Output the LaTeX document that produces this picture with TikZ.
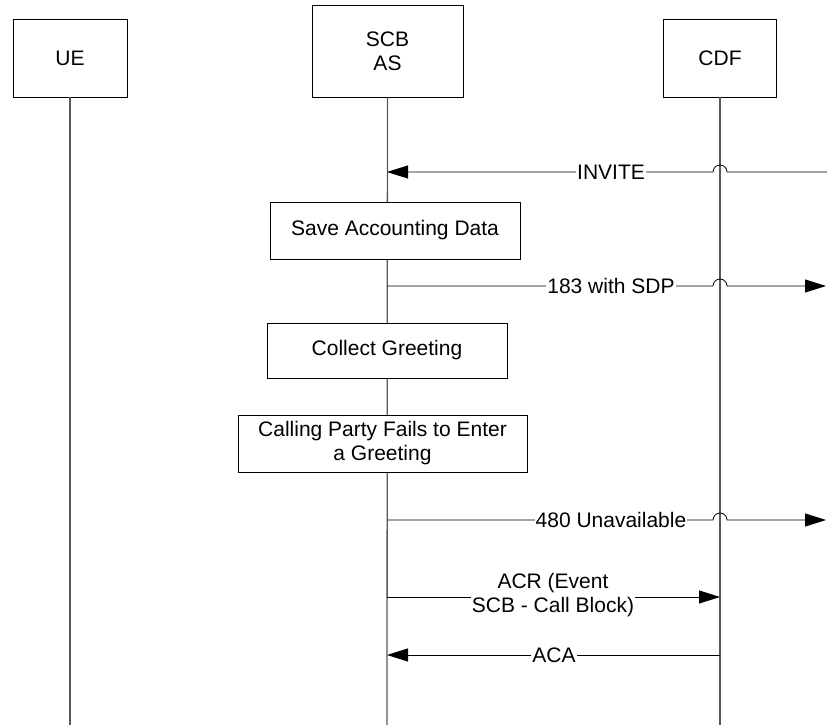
\documentclass[tikz,border=0pt]{standalone}
\usepackage{fontspec}
\setmainfont{Liberation Sans}
\usetikzlibrary{arrows.meta, positioning}
\tikzstyle{headbox} = [rectangle, draw = black, line width = 0.8pt,
  text centered, align = center, inner sep = 0]
\tikzstyle{actbox} = [
  rectangle, draw = black, fill = white, line width = 0.8pt,
  align = center, inner sep = 0
]
\tikzstyle{life} = [draw = black!65, line width = 1.3pt]
\tikzstyle{msg} = [draw = black, line width = 0.8pt]
\tikzstyle{msgtip} = [-{Triangle[length = 21pt, width = 13pt]}]
\tikzstyle{msglabel} = [fill = white, inner sep = 1pt, align = center]

\begin{document}
\begin{tikzpicture}[x = 1pt, y = 1pt, font = \fontsize{21}{24}\selectfont]
      \useasboundingbox (0, 0) rectangle (827, 725);
      % UE
      \node [headbox, minimum width = 114, minimum height = 78] (ue) at (70, 667) {UE};
      \coordinate (ue-end) at (70, 0);
      % SCB AS
      \node [headbox, minimum width = 151, minimum height = 92] (scb) at (387.5, 674) {SCB\\AS};
      \coordinate (scb-end) at (387, 0);
      % CDF
      \node [headbox, minimum width = 113, minimum height = 78] (cdf) at (720, 667) {CDF};
      \coordinate (cdf-end) at (720, 0);

      \draw [life] (ue) -- (ue-end);
      \draw [life] (scb) -- (scb-end);
      \draw [life] (cdf) -- (cdf-end);

      % actions
      \node [actbox, minimum width = 250, minimum height = 57] (save) at (395, 494.5) {Save Accounting Data};
      \node [actbox, minimum width = 240, minimum height = 55] (collect) at (387, 374.5) {Collect Greeting};
      \node [actbox, minimum width = 289, minimum height = 57] (fail) at (382.5, 281.5) {Calling Party Fails to Enter\\a Greeting};

      % INVITE
      \coordinate (invite-a) at (827, 553);
      \coordinate (invite-b) at (scb-end |- invite-a);
      \coordinate (invite-j) at (cdf-end |- invite-a);
      \draw [msg, msgtip] (invite-a) -- ([xshift = 7pt] invite-j)
      arc [start angle = 0, end angle = 180, radius = 7pt] -- (invite-b);
      \node [msglabel] (invite) at (611, 553) {INVITE};
      % 183
      \coordinate (sdp-a) at (scb-end |- 0, 439);
      \coordinate (sdp-b) at (826, 439);
      \coordinate (sdp-j) at (cdf-end |- sdp-a);
      \draw [msg, msgtip] (sdp-a) -- ([xshift = -7pt] sdp-j)
      arc [start angle = 180, end angle = 0, radius = 7pt] -- (sdp-b);
      \node [msglabel] (sdp) at (611, 439) {183 with SDP};
      % 480
      \coordinate (unav-a) at (scb-end |- 0, 205);
      \coordinate (unav-b) at (826, 205);
      \coordinate (unav-j) at (cdf-end |- unav-a);
      \draw [msg, msgtip] (unav-a) -- ([xshift = -7pt] unav-j)
      arc [start angle = 180, end angle = 0, radius = 7pt] -- (unav-b);
      \node [msglabel] (unav) at (611, 205) {480 Unavailable};
      % ACR
      \coordinate (acr-a) at (scb-end |- 0, 128);
      \coordinate (acr-b) at (cdf-end |- acr-a);
      \draw [msg, msgtip] (acr-a) -- (acr-b);
      \node [msglabel] (acr) at (553, 130) {ACR (Event\\SCB - Call Block)};
      % ACA
      \coordinate (aca-a) at (cdf-end |- 0, 70);
      \coordinate (aca-b) at (scb-end |- aca-a);
      \draw [msg, msgtip] (aca-a) -- (aca-b);
      \node [msglabel] (aca) at (554, 70) {ACA};
    \end{tikzpicture}
\end{document}
